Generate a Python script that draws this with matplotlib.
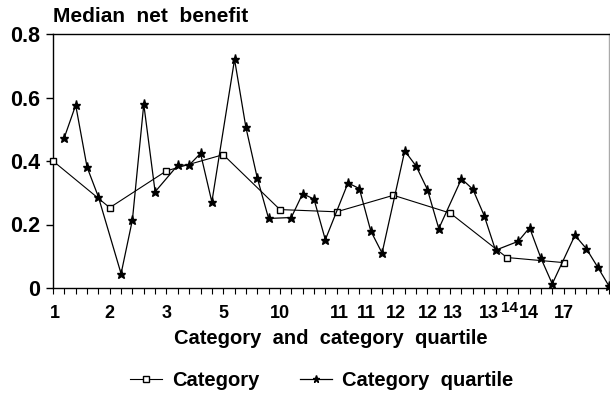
import matplotlib
matplotlib.use("Agg")
import matplotlib.pyplot as plt
import matplotlib.transforms as mtransforms

# ---- data ----
cat_x = [0, 5, 10, 15, 20, 25, 30, 35, 40, 45]
cat_y = [0.400, 0.253, 0.369, 0.420, 0.247, 0.240, 0.292, 0.236, 0.096, 0.080]

quart_x = [1, 2, 3, 4, 6, 7, 8, 9, 11, 12, 13, 14, 16, 17, 18, 19,
           21, 22, 23, 24, 26, 27, 28, 29, 31, 32, 33, 34, 36, 37, 38, 39,
           41, 42, 43, 44, 46, 47, 48, 49]
quart_y = [0.474, 0.576, 0.381, 0.287, 0.045, 0.215, 0.579, 0.303,
           0.387, 0.387, 0.424, 0.271, 0.720, 0.506, 0.347, 0.219,
           0.222, 0.297, 0.280, 0.152, 0.331, 0.313, 0.180, 0.110,
           0.432, 0.384, 0.310, 0.187, 0.344, 0.311, 0.228, 0.119,
           0.147, 0.190, 0.094, 0.013, 0.166, 0.124, 0.066, 0.006]

tick_pos = [0.2, 5, 10, 15, 20, 25.2, 27.6, 30.2, 33, 35.2, 38.4, 40.2, 41.9, 45]
tick_lab = ['1', '2', '3', '5', '10', '11', '11', '12', '12', '13', '13', '14', '14', '17']

yticks = [0, 0.2, 0.4, 0.6, 0.8]
ytick_lab = ['0', '0.2', '0.4', '0.6', '0.8']

plt.rcParams['font.family'] = ['Liberation Sans', 'DejaVu Sans']

fig = plt.figure(figsize=(6.10, 4.01), dpi=100)
ax = fig.add_axes([53 / 610, 1 - 288 / 401, (609 - 53) / 610, (288 - 34) / 401])

l1, = ax.plot(cat_x, cat_y, color='black', lw=0.8, marker='s', ms=5,
              mfc='white', mec='black', mew=1.0, label='Category', clip_on=False, zorder=3)
l2, = ax.plot(quart_x, quart_y, color='black', lw=0.9, marker='*', ms=6.5,
              mfc='black', mec='black', label='Category  quartile', clip_on=False, zorder=4)

ax.set_xlim(0, 49)
ax.set_ylim(0, 0.8)

ax.set_yticks(yticks)
ax.set_yticklabels(ytick_lab, fontsize=15.5, fontweight='bold')
ax.tick_params(axis='y', direction='out', length=5, width=1, pad=4)

ax.set_xticks(range(0, 50))
ax.set_xticklabels([])
ax.tick_params(axis='x', direction='out', length=4, width=0.8)

trans = mtransforms.blended_transform_factory(ax.transData, ax.transAxes)
for p, lab in zip(tick_pos, tick_lab):
    small = (p == 40.2)
    ax.text(p, -0.065 if not small else -0.05, lab, transform=trans,
            ha='center', va='top', fontsize=11 if small else 13,
            fontweight='bold')

for s in ['left', 'top']:
    ax.spines[s].set_color('black')
    ax.spines[s].set_linewidth(1.0)
ax.spines['bottom'].set_linewidth(1.0)
ax.spines['right'].set_color('#aaaaaa')
ax.spines['right'].set_linewidth(1.0)

fig.text(53 / 610, 1 - 17 / 401, 'Median  net  benefit', fontsize=15,
         fontweight='bold', ha='left', va='center')
fig.text(331 / 610, 1 - 338 / 401, 'Category  and  category  quartile', fontsize=14.5,
         fontweight='bold', ha='center', va='center')

leg = fig.legend(handles=[l1, l2], loc='center', bbox_to_anchor=(322 / 610, 1 - 381 / 401),
                 ncol=2, frameon=False, prop={'weight': 'bold', 'size': 14.5},
                 handlelength=1.6, handletextpad=0.5, columnspacing=2.0,
                 markerscale=0.8)

fig.savefig('out.png', dpi=100)
